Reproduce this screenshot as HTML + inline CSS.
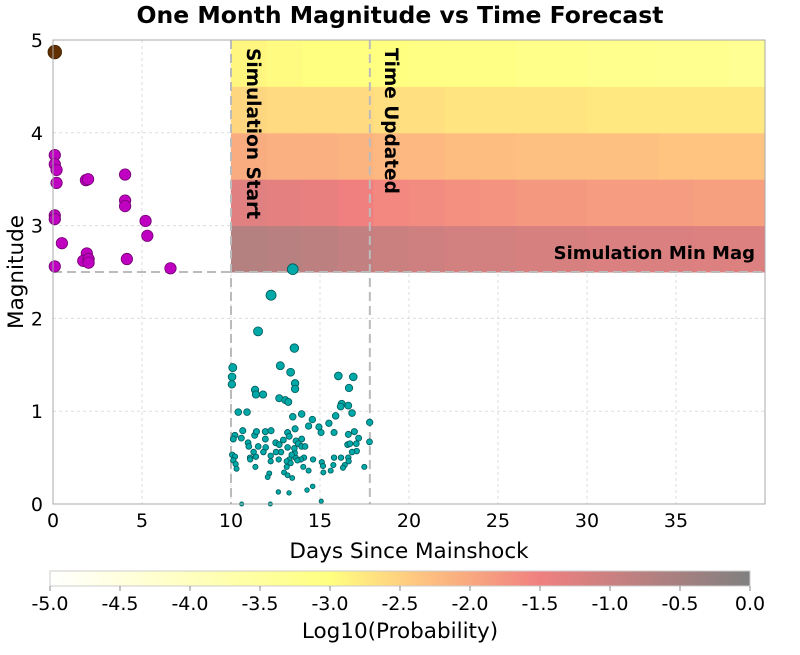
<!DOCTYPE html>
<html><head><meta charset="utf-8"><style>
body{margin:0;background:#fff;}
svg text{font-family:"DejaVu Sans","Liberation Sans",sans-serif;}
</style></head><body>
<svg id="chart" width="800" height="650" xmlns="http://www.w3.org/2000/svg">
<text x="400" y="23" text-anchor="middle" font-size="23.5" font-weight="bold">One Month Magnitude vs Time Forecast</text>
<g id="grid"></g><g id="heat"></g><g id="lines"></g><g id="pts"></g><g id="axes"></g><g id="cbar"></g>
</svg>
<script>
const xTicks=[0,5,10,15,20,25,30,35];
const yTicks=[0,1,2,3,4,5];
const heatRows=[2.5,3,3.5,4,4.5];
const heatCols=[10,12,14,16,18,20,22,24,26,28,30,32,34,36,38];
const heatVals=[
[-0.7,-0.75,-0.8,-0.9,-1.0,-1.05,-1.1,-1.1,-1.15,-1.15,-1.2,-1.2,-1.2,-1.25,-1.25],
[-1.3,-1.35,-1.4,-1.5,-1.6,-1.65,-1.7,-1.75,-1.8,-1.8,-1.85,-1.85,-1.85,-1.9,-1.9],
[-2.05,-2.1,-2.1,-2.15,-2.2,-2.2,-2.25,-2.25,-2.3,-2.3,-2.3,-2.3,-2.35,-2.35,-2.35],
[-2.55,-2.6,-2.6,-2.6,-2.65,-2.65,-2.7,-2.7,-2.7,-2.7,-2.75,-2.75,-2.75,-2.75,-2.75],
[-2.9,-2.95,-3.0,-3.0,-3.0,-3.05,-3.1,-3.1,-3.15,-3.15,-3.2,-3.2,-3.25,-3.25,-3.3]];
const preDays=[0.1,0.1,0.1,0.2,0.2,1.85,1.97,4.05,4.05,4.05,0.1,0.1,0.5,5.2,5.3,1.9,1.7,2.0,2.0,4.15,0.1,6.6];
const preMags=[4.87,3.76,3.66,3.6,3.46,3.49,3.5,3.55,3.27,3.21,3.11,3.07,2.81,3.05,2.89,2.7,2.62,2.64,2.6,2.64,2.56,2.54];
const postDays=[13.47,12.25,11.52,13.56,10.1,10.06,10.05,12.77,13.35,13.6,13.6,11.35,11.4,11.8,12.71,13.05,13.22,16.03,16.87,16.63,16.22,16.16,16.59,16.8,10.41,10.9,13.47,13.97,14.57,15.88,15.5,14.36,13.6,14.94,15.06,17.79,17.78,17.49,10.66,10.22,10.13,10.58,11.33,11.43,11.93,12.25,13.18,13.27,13.97,13.65,12.94,12.51,10.96,11.0,11.53,11.95,12.71,13.18,13.78,13.97,14.16,16.59,16.93,17.17,15.79,16.55,16.68,17.04,17.06,16.8,15.79,16.18,16.59,16.61,16.39,16.29,15.75,15.1,15.17,15.6,15.19,14.61,14.36,14.1,13.93,13.63,13.58,13.56,13.41,13.28,13.13,13.35,13.13,12.98,13.18,13.44,12.68,12.81,12.53,12.23,12.23,11.82,11.4,11.27,11.07,11.08,11.37,12.15,12.06,10.07,10.22,10.13,10.26,10.31,12.66,13.26,14.27,14.59,15.07,10.6,12.21,13.73,14.06,11.93];
const postMags=[2.53,2.25,1.86,1.68,1.47,1.37,1.29,1.49,1.42,1.30,1.24,1.23,1.18,1.18,1.14,1.12,1.10,1.38,1.37,1.25,1.08,1.05,1.06,0.98,0.99,0.99,0.94,0.97,0.91,0.95,0.87,0.84,0.81,0.83,0.77,0.88,0.67,0.40,0.79,0.74,0.70,0.71,0.74,0.78,0.78,0.79,0.77,0.73,0.70,0.68,0.69,0.66,0.66,0.62,0.62,0.61,0.64,0.61,0.65,0.62,0.62,0.75,0.78,0.71,0.77,0.64,0.65,0.65,0.57,0.56,0.50,0.50,0.50,0.46,0.42,0.39,0.42,0.45,0.41,0.36,0.34,0.48,0.36,0.50,0.48,0.50,0.55,0.60,0.53,0.48,0.46,0.44,0.40,0.34,0.31,0.28,0.48,0.56,0.56,0.52,0.46,0.56,0.51,0.56,0.50,0.48,0.40,0.33,0.29,0.53,0.51,0.47,0.43,0.38,0.13,0.12,0.15,0.19,0.03,0.0,0.0,0.47,0.40,0.70];
const cbTicks=[-5.0,-4.5,-4.0,-3.5,-3.0,-2.5,-2.0,-1.5,-1.0,-0.5,0.0];
const simStart=10, timeUpdated=17.8, minMag=2.5;

const NS="http://www.w3.org/2000/svg";
const X0=53,X1=765,Y0=504,Y1=40;
const sx=d=>X0+(d/40)*(X1-X0);
const sy=m=>Y0-(m/5)*(Y0-Y1);
function mk(tag,attrs,parent,text){const e=document.createElementNS(NS,tag);for(const k in attrs)e.setAttribute(k,attrs[k]);if(text!==undefined)e.textContent=text;document.getElementById(parent).appendChild(e);return e;}
const stops=[[-5,[255,255,255]],[-3,[255,255,128]],[-2.4,[255,200,128]],[-1.5,[240,128,128]],[0,[128,128,128]]];
function cmap(v){for(let i=0;i<stops.length-1;i++){const[a,ca]=stops[i],[b,cb]=stops[i+1];if(v<=b||i==stops.length-2){const t=Math.max(0,Math.min(1,(v-a)/(b-a)));return`rgb(${ca.map((c,j)=>Math.round(c+(cb[j]-c)*t)).join(',')})`;}}}

xTicks.forEach(t=>{if(t>0){const g=mk('line',{x1:sx(t),x2:sx(t),y1:Y1,y2:Y0,stroke:'#ddd','stroke-dasharray':'3,3'},'grid');}});
yTicks.forEach(t=>{if(t>0&&t<5){const g=mk('line',{x1:X0,x2:X1,y1:sy(t),y2:sy(t),stroke:'#ddd','stroke-dasharray':'3,3'},'grid');}});
heatRows.forEach((r,i)=>heatCols.forEach((c,j)=>{const c2=j<heatCols.length-1?heatCols[j+1]:40;const e=mk('rect',{x:sx(c),y:sy(r+0.5),width:sx(c2)-sx(c)+0.5,height:sy(r)-sy(r+0.5)+0.5,fill:cmap(heatVals[i][j])},'heat');}));
let l=mk('line',{x1:sx(simStart),x2:sx(simStart),y1:Y1,y2:Y0,stroke:'#bbb','stroke-width':2,'stroke-dasharray':'9,5'},'lines');
l=mk('line',{x1:sx(timeUpdated),x2:sx(timeUpdated),y1:Y1,y2:Y0,stroke:'#bbb','stroke-width':2,'stroke-dasharray':'9,5'},'lines');
l=mk('line',{x1:X0,x2:X1,y1:sy(minMag),y2:sy(minMag),stroke:'#bbb','stroke-width':2,'stroke-dasharray':'9,5'},'lines');
let t=mk('text',{transform:`translate(${sx(simStart)+16},48) rotate(90)`,'font-size':18.5,'font-weight':'bold'},'lines','Simulation Start');
t=mk('text',{transform:`translate(${sx(timeUpdated)+15},48) rotate(90)`,'font-size':18.5,'font-weight':'bold'},'lines','Time Updated');
t=mk('text',{x:755,y:259,'text-anchor':'end','font-size':18,'font-weight':'bold'},'lines','Simulation Min Mag');
preDays.forEach((d,i)=>{const big=preMags[i]>4.5;const p=mk('circle',{cx:sx(d),cy:sy(preMags[i]),r:big?6.8:5.7,fill:big?'#603000':'#c000c0',stroke:big?'#402000':'#700070','stroke-width':0.8},'pts');});
postDays.forEach((d,i)=>{const m=postMags[i];const p=mk('circle',{cx:sx(d),cy:sy(m),r:2.1+1.3*m,fill:'#00a8a8',stroke:'#005858','stroke-width':0.8},'pts');});
let b=mk('rect',{x:X0,y:Y1,width:X1-X0,height:Y0-Y1,fill:'none',stroke:'#aaa'},'axes');
xTicks.forEach(v=>{const e=mk('text',{x:sx(v),y:Y0+23,'text-anchor':'middle','font-size':19},'axes',String(v));});
yTicks.forEach(v=>{const e=mk('text',{x:X0-10,y:sy(v)+7,'text-anchor':'end','font-size':19},'axes',String(v));});
t=mk('text',{x:409,y:558,'text-anchor':'middle','font-size':21.5},'axes','Days Since Mainshock');
t=mk('text',{transform:'translate(23,272) rotate(-90)','text-anchor':'middle','font-size':21.5},'axes','Magnitude');
const CX0=50,CX1=750;const cx=v=>CX0+(v+5)/5*(CX1-CX0);
const defs=mk('defs',{},'cbar');const lg=document.createElementNS(NS,'linearGradient');lg.setAttribute('id','cg');defs.appendChild(lg);
stops.forEach(s=>{const st=document.createElementNS(NS,'stop');st.setAttribute('offset',((s[0]+5)/5*100)+'%');st.setAttribute('stop-color',`rgb(${s[1].join(',')})`);lg.appendChild(st);});
b=mk('rect',{x:CX0,y:571,width:CX1-CX0,height:15,fill:'url(#cg)',stroke:'#ccc'},'cbar');
cbTicks.forEach(v=>{const k=mk('line',{x1:cx(v),x2:cx(v),y1:586,y2:591,stroke:'#888'},'cbar');const e=mk('text',{x:cx(v),y:610,'text-anchor':'middle','font-size':19},'cbar',v.toFixed(1));});
t=mk('text',{x:400,y:638,'text-anchor':'middle','font-size':21.5},'cbar','Log10(Probability)');
</script>
</body></html>
